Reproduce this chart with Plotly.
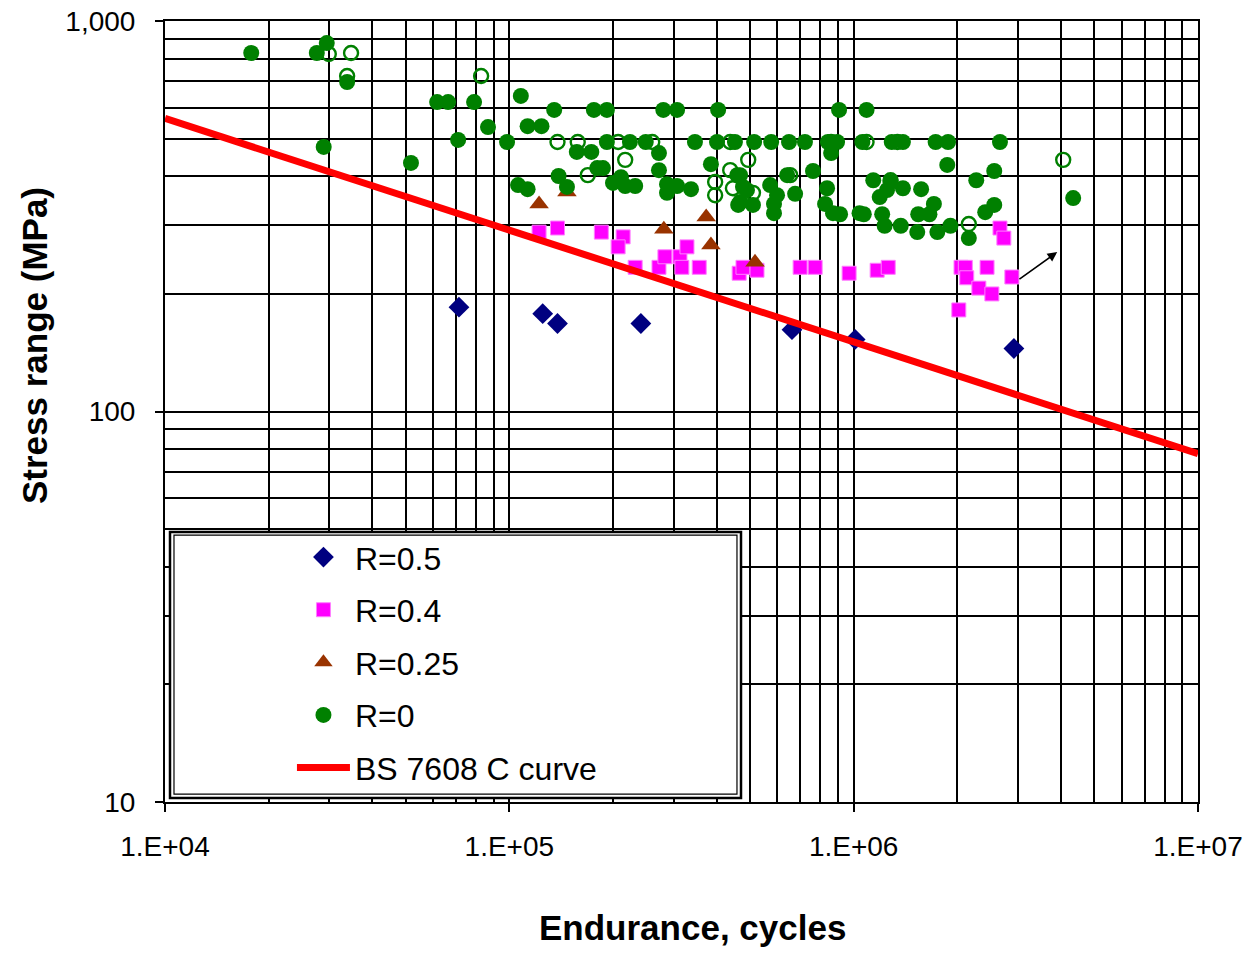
import numpy as np
import plotly.graph_objects as go

FONT = "Liberation Sans, Arial, sans-serif"

# ---- test data: endurance (cycles) and stress range (MPa) ----
r05_N = [71400, 125000, 138000, 241000, 662000, 1010000, 2920000]
r05_S = [185, 178, 168, 168, 162, 153, 145]

r04_N = [122000, 138000, 185000, 214000, 207000, 232000, 272000, 283000, 313000,
         328000, 317000, 356000, 465000, 477000, 524000, 699000, 773000, 970000,
         1170000, 1260000, 2050000, 2110000, 2130000, 2440000, 2310000, 2520000,
         2020000, 2660000, 2730000, 2880000]
r04_S = [288, 295, 288, 280, 264, 234, 234, 249, 249,
         264, 234, 234, 226, 234, 230, 234, 234, 226,
         230, 234, 234, 234, 220, 234, 207, 200,
         182, 295, 278, 221]

r025_N = [122000, 147000, 281000, 373000, 385000, 517000]
r025_S = [340, 365, 293, 315, 267, 241]

r0_N = [17800, 27600, 29500, 33800, 28900, 51800, 61700, 66400, 79000, 71000,
        86700, 98500, 108000, 113000, 124000, 135000, 106000, 113000,
        176000, 192000, 280000, 307000, 404000, 907000, 1090000,
        192000, 224000, 249000, 346000, 401000, 452000, 514000, 576000, 649000,
        722000, 842000, 895000, 1060000, 1290000, 1390000, 1730000, 1880000, 2660000,
        157000, 173000, 272000, 860000, 385000, 180000, 187000, 139000, 272000,
        762000, 459000, 641000, 147000, 200000, 211000, 217000, 232000, 287000,
        287000, 307000, 337000, 490000, 572000, 599000, 587000, 587000, 676000,
        462000, 510000, 837000, 826000, 871000, 1040000, 468000, 477000, 468000,
        1870000, 2560000, 4340000, 1140000, 1280000, 1250000, 1190000, 1390000,
        1570000, 2270000, 913000, 1070000, 1210000, 1230000, 1370000, 1530000,
        1540000, 1660000, 1710000, 1750000, 1910000, 2160000, 2410000, 2560000]
r0_S = [828, 828, 878, 698, 476, 433, 620, 620, 620, 496,
        535, 490, 643, 538, 538, 592, 380, 371,
        592, 592, 592, 592, 592, 592, 592,
        490, 490, 490, 490, 490, 490, 490, 490, 490,
        490, 490, 490, 490, 490, 490, 490, 490, 490,
        462, 462, 459, 459, 430, 420, 420, 401, 415,
        413, 403, 403, 376, 385, 398, 378, 378, 382,
        363, 378, 371, 369, 380, 358, 340, 322, 361,
        338, 338, 373, 340, 322, 322, 344, 376, 403,
        428, 413, 352, 391, 387, 369, 354, 373,
        371, 391, 320, 320, 320, 299, 299, 288,
        320, 320, 340, 288, 299, 278, 324, 338]

# R = 0 specimens that did not fail (run-outs)
r0_run_N = [29900, 34700, 33800, 82800, 138000, 158000, 207000, 260000, 438000,
            217000, 494000, 169000, 438000, 396000, 396000, 446000, 510000,
            654000, 1090000, 1340000, 4060000, 2160000, 1280000, 860000]
r0_run_S = [823, 828, 723, 723, 490, 490, 490, 490, 490,
            441, 441, 403, 415, 387, 358, 373, 363,
            403, 490, 490, 441, 302, 391, 490]

# BS 7608 class C design curve end points
curve_N = [1e4, 1e7]
curve_S = [563, 78]

# run-out arrow (tail -> head)
arrow_N = [3.0e6, 3.9e6]
arrow_S = [217, 256]

x_ticks = [1e4, 1e5, 1e6, 1e7]
x_labels = ["1.E+04", "1.E+05", "1.E+06", "1.E+07"]
y_ticks = [10, 100, 1000]
y_labels = ["10", "100", "1,000"]

x_minor = [m * 10 ** d for d in range(4, 7) for m in range(2, 10)]
y_minor = [m * 10 ** d for d in range(1, 3) for m in range(2, 10)]

fig = go.Figure()

fig.add_trace(go.Scatter(
    x=r05_N, y=r05_S, mode="markers", name="R=0.5", legendgroup="a",
    marker=dict(symbol="diamond", size=16, color="#000080",
                line=dict(width=0))))
fig.add_trace(go.Scatter(
    x=r04_N, y=r04_S, mode="markers", name="R=0.4", legendgroup="b",
    marker=dict(symbol="square", size=14, color="#FF00FF",
                line=dict(width=1, color="#FF80FF"))))
fig.add_trace(go.Scatter(
    x=r025_N, y=r025_S, mode="markers", name="R=0.25", legendgroup="c",
    marker=dict(symbol="triangle-up", size=17, color="#993300",
                line=dict(width=0))))
fig.add_trace(go.Scatter(
    x=r0_N, y=r0_S, mode="markers", name="R=0", legendgroup="d",
    marker=dict(symbol="circle", size=16, color="#008000",
                line=dict(width=0))))
fig.add_trace(go.Scatter(
    x=r0_run_N, y=r0_run_S, mode="markers", name="R=0 run-out",
    showlegend=False,
    marker=dict(symbol="circle-open", size=14, color="#008000",
                line=dict(width=2.4))))
fig.add_trace(go.Scatter(
    x=curve_N, y=curve_S, mode="lines", name="BS 7608 C curve",
    legendgroup="e", line=dict(color="#FF0000", width=7)))

fig.add_annotation(
    x=np.log10(arrow_N[1]), y=np.log10(arrow_S[1]),
    ax=np.log10(arrow_N[0]), ay=np.log10(arrow_S[0]),
    xref="x", yref="y", axref="x", ayref="y",
    showarrow=True, arrowhead=2, arrowsize=1.2, arrowwidth=1.6,
    arrowcolor="black", text="")

# axis titles
fig.add_annotation(
    text="<b>Endurance, cycles</b>", xref="paper", yref="paper",
    x=0.5111, y=-0.1613, xanchor="center", yanchor="middle",
    showarrow=False, font=dict(family=FONT, size=35, color="black"))
fig.add_annotation(
    text="<b>Stress range (MPa)</b>", xref="paper", yref="paper",
    x=-0.1258, y=0.5839, xanchor="center", yanchor="middle", textangle=-90,
    showarrow=False, font=dict(family=FONT, size=35, color="black"))

# legend frame (double border)
fig.add_shape(type="rect", xref="paper", yref="paper",
              x0=0.00484, x1=0.5576, y0=0.00512, y1=0.3457,
              line=dict(color="black", width=2.5), fillcolor="white",
              layer="above")
fig.add_shape(type="rect", xref="paper", yref="paper",
              x0=0.0087, x1=0.5537, y0=0.0102, y1=0.3418,
              line=dict(color="black", width=1.2), fillcolor="rgba(0,0,0,0)",
              layer="above")

axis_common = dict(
    type="log", showline=True, linecolor="black", linewidth=2, mirror=True,
    ticks="outside", ticklen=8, tickcolor="black", tickwidth=1.5,
    showgrid=True, gridcolor="black", gridwidth=1.5, zeroline=False,
    automargin=False,
    tickfont=dict(family=FONT, size=28, color="black"),
)

fig.update_xaxes(
    range=[4, 7], tickvals=x_ticks, ticktext=x_labels,
    minor=dict(tickvals=x_minor, showgrid=True, gridcolor="black",
               gridwidth=1.5, ticks=""),
    ticklabelstandoff=10, **axis_common)
fig.update_yaxes(
    range=[1, 3], tickvals=y_ticks, ticktext=y_labels,
    minor=dict(tickvals=y_minor, showgrid=True, gridcolor="black",
               gridwidth=1.5, ticks=""),
    ticklabelstandoff=14, **axis_common)

fig.update_layout(
    width=1250, height=954, autosize=False,
    margin=dict(l=165, r=52, t=21, b=152),
    paper_bgcolor="white", plot_bgcolor="white",
    font=dict(family=FONT, color="black"),
    showlegend=True,
    legend=dict(
        x=0.1229, y=0.3485, xanchor="left", yanchor="top",
        bgcolor="rgba(0,0,0,0)", borderwidth=0,
        font=dict(family=FONT, size=32, color="black"),
        itemwidth=53, traceorder="grouped", tracegroupgap=8,
    ),
)

fig.write_html("out.html")
